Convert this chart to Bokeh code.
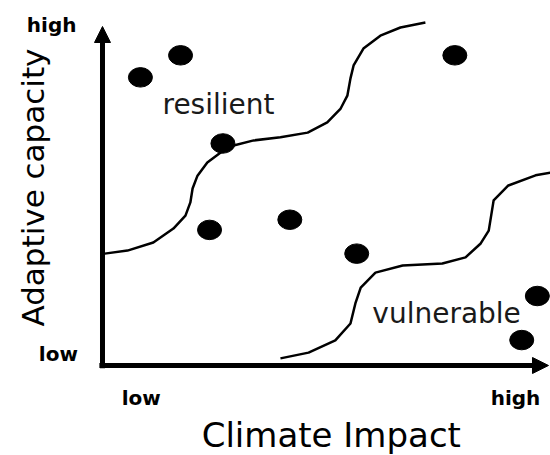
import math
from bokeh.plotting import figure
from bokeh.models import Range1d, Arrow, NormalHead, Label
from bokeh.embed import file_html
from bokeh.resources import INLINE

# ---- data (abstract units: 0 = low, 10 = high) ----
climate_impact = [0.85, 1.75, 2.7, 2.4, 4.2, 5.7, 7.9, 9.75, 9.4]
adaptive_capacity = [8.5, 9.15, 6.55, 4.0, 4.3, 3.3, 9.15, 2.05, 0.75]

resilient_x = [0.05, 0.56, 1.14, 1.59, 1.86, 1.97, 2.02, 2.13, 2.35, 2.65, 2.94,
               3.39, 3.99, 4.60, 5.04, 5.34, 5.49, 5.56, 5.63, 5.85, 6.23, 6.68, 7.24]
resilient_y = [3.30, 3.39, 3.63, 4.04, 4.42, 4.81, 5.22, 5.60, 5.99, 6.28, 6.49,
               6.64, 6.73, 6.87, 7.17, 7.58, 7.96, 8.47, 8.85, 9.35, 9.73, 9.97, 10.12]

vulnerable_x = [3.99, 4.62, 5.22, 5.56, 5.67, 5.79, 6.12, 6.73, 7.62, 8.14, 8.48,
                8.66, 8.77, 9.10, 9.71, 10.05]
vulnerable_y = [0.21, 0.38, 0.74, 1.24, 1.83, 2.30, 2.74, 2.95, 3.01, 3.19, 3.60,
                3.98, 4.87, 5.31, 5.61, 5.69]

tick_labels = ["low", "high"]
x_title = "Climate Impact"
y_title = "Adaptive capacity"
zone_labels = ["resilient", "vulnerable"]

FONT = "DejaVu Sans"

p = figure(width=550, height=455, output_backend="svg", toolbar_location=None,
           x_range=Range1d(-2.287, 10.045), y_range=Range1d(-2.655, 10.767),
           min_border=0)
p.axis.visible = False
p.grid.visible = False
p.outline_line_color = None
p.background_fill_color = "white"
p.border_fill_color = "white"

# boundary curves
p.line(resilient_x, resilient_y, line_color="black", line_width=2.5,
       line_join="round")
p.line(vulnerable_x, vulnerable_y, line_color="black", line_width=2.5,
       line_join="round")

# points
p.ellipse(climate_impact, adaptive_capacity, width=24, height=19.5,
          width_units="screen", height_units="screen",
          fill_color="black", line_color="black")

# axes arrows
p.add_layout(Arrow(x_start=-0.07, y_start=0, x_end=10, y_end=0,
                   line_width=5, line_color="black",
                   end=NormalHead(size=16, fill_color="black", line_color="black")))
p.add_layout(Arrow(x_start=0, y_start=-0.08, x_end=0, y_end=10,
                   line_width=5, line_color="black",
                   end=NormalHead(size=16, fill_color="black", line_color="black")))

def lab(x, y, text, size, bold=False, align="left", baseline="alphabetic",
        angle=0, color="black", dy=0):
    p.add_layout(Label(x=x, y=y, text=text, text_font=FONT,
                       text_font_size=f"{size}px",
                       text_font_style="bold" if bold else "normal",
                       text_align=align, text_baseline=baseline,
                       angle=angle, text_color=color, y_offset=dy))

# tick labels
lab(-1.14, 9.88, tick_labels[1], 20, bold=True, align="center", dy=6)
lab(-0.99, 0.09, tick_labels[0], 20, bold=True, align="center", dy=8)
lab(0.87, -1.24, tick_labels[0], 20, bold=True, align="center", dy=10)
lab(9.26, -1.18, tick_labels[1], 20, bold=True, align="center", dy=7)

# axis titles
lab(5.13, -2.42, x_title, 34, align="center", dy=13)
lab(-1.55, 5.25, y_title, 31, align="center", baseline="middle", angle=math.pi / 2)

# zone labels
lab(1.345, 7.43, zone_labels[0], 28, color="#1a1a1a", dy=9)
lab(6.05, 1.27, zone_labels[1], 28, color="#1a1a1a", dy=9)

open("out.html", "w").write(file_html(p, INLINE))
